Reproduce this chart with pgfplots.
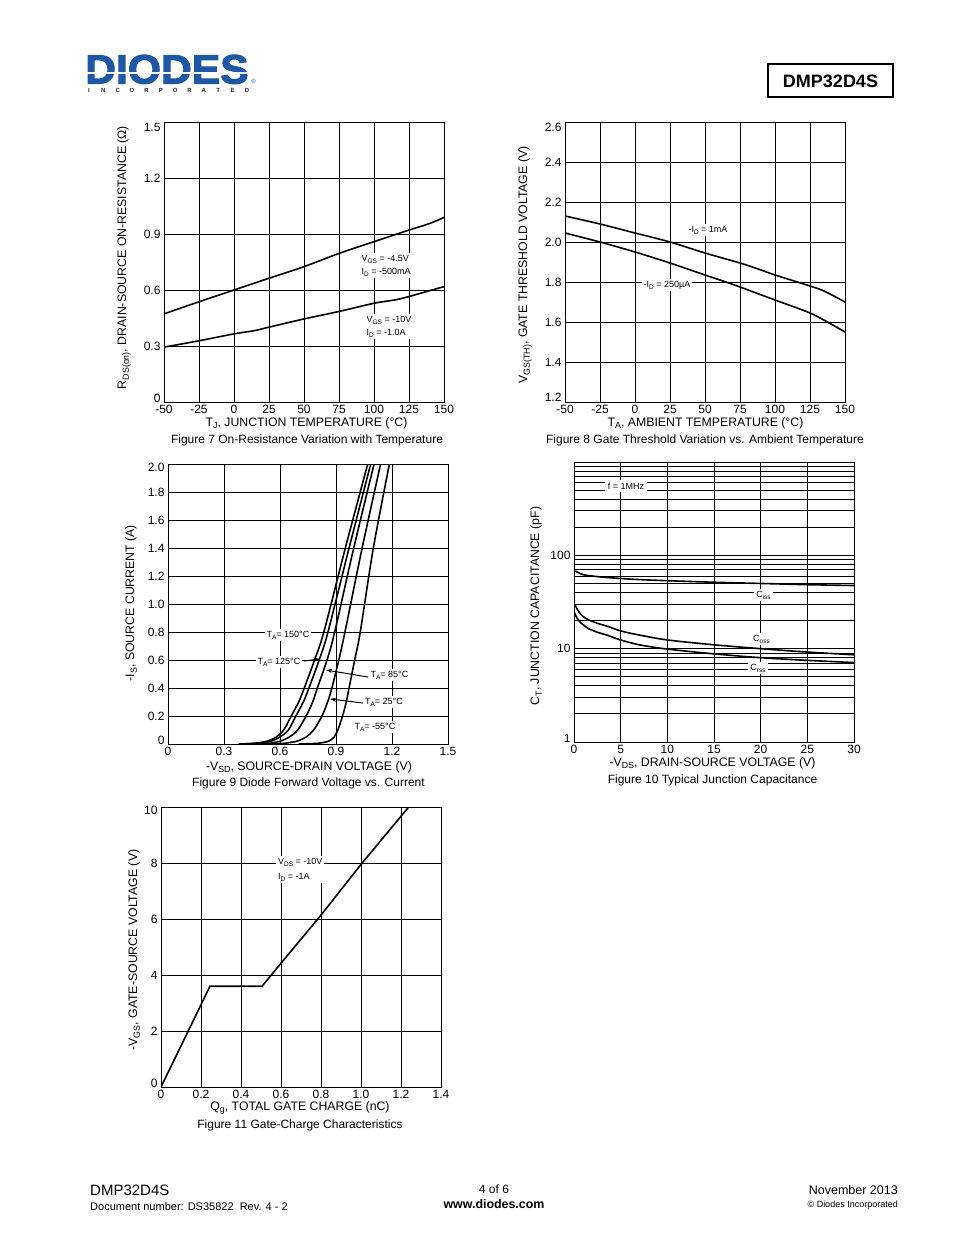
\documentclass[border=0pt]{standalone}
\usepackage{fontspec}
\setmainfont{Liberation Sans}
\newfontfamily\logofont{Liberation Sans}[BoldFeatures={FakeBold=2.5}]
\usepackage{pgfplots}
\pgfplotsset{compat=1.18}
\usetikzlibrary{arrows.meta}
\definecolor{diodesblue}{RGB}{30,88,164}
\newcommand{\fs}[1]{\fontsize{#1}{#1}\selectfont}
\newcommand{\sub}[1]{\raisebox{-0.22em}{\scalebox{0.72}{#1}}}
\newcommand{\up}[2]{\raisebox{#1}{#2}}

% common look of the datasheet graphs
\pgfplotsset{
  ds/.style={
    scale only axis, width=280pt, height=280pt, anchor=south west,
    axis line style={line width=1pt},
    grid=major, major grid style={black, line width=0.9pt},
    major tick length=0pt, minor tick length=0pt,
    ticklabel style={font=\fs{12}},
    yticklabel style={anchor=base east, yshift=-4.3pt},
    clip=true,
  },
  crv/.style={black, line width=1.6pt, no marks, smooth},
}

\begin{document}
\begin{tikzpicture}
\fill[white] (0,0) rectangle (954pt,-1235pt);
\path[use as bounding box] (0,0) rectangle (954pt,-1235pt);

% ---------------- Figure 7
\begin{axis}[ds, at={(164pt,-402pt)},
  xmin=-50, xmax=150, ymin=0, ymax=1.5,
  xtick={-50,-25,0,25,50,75,100,125,150},
  xticklabels={-50,-25,0,25,50,75,100,125,150},
  ytick={0,0.3,0.6,0.9,1.2,1.5},
  yticklabels={\up{4pt}{0},0.3,0.6,0.9,1.2,\up{-5pt}{1.5}}]
\addplot[crv] coordinates {(-50,0.472) (-25,0.537) (0,0.600) (25,0.663) (50,0.725)
  (75,0.796) (100,0.859) (125,0.921) (140,0.957) (150,0.989)};
\addplot[crv] coordinates {(-50,0.294) (-25,0.328) (0,0.365) (15,0.383) (25,0.401)
  (50,0.445) (75,0.485) (100,0.529) (115,0.547) (125,0.565) (140,0.597) (150,0.618)};
\end{axis}

% ---------------- Figure 8
\begin{axis}[ds, at={(565pt,-402pt)},
  xmin=-50, xmax=150, ymin=1.2, ymax=2.6,
  xtick={-50,-25,0,25,50,75,100,125,150},
  xticklabels={-50,-25,0,25,50,75,100,125,150},
  ytick={1.2,1.4,1.6,1.8,2.0,2.2,2.4,2.6},
  yticklabels={\up{5pt}{1.2},1.4,1.6,1.8,2.0,2.2,2.4,\up{-5pt}{2.6}}]
\addplot[crv] coordinates {(-50,2.13) (-25,2.09) (0,2.045) (25,2.0) (50,1.945)
  (75,1.895) (90,1.86) (100,1.835) (125,1.78) (135,1.755) (150,1.70)};
\addplot[crv] coordinates {(-50,2.045) (-25,2.0) (0,1.95) (25,1.895) (50,1.835)
  (65,1.80) (75,1.775) (100,1.71) (125,1.645) (140,1.59) (150,1.55)};
\end{axis}

% ---------------- Figure 9
\begin{axis}[ds, at={(168pt,-744pt)},
  xmin=0, xmax=1.5, ymin=0, ymax=2.0,
  xtick={0,0.3,0.6,0.9,1.2,1.5},
  xticklabels={0,0.3,0.6,0.9,1.2,1.5},
  ytick={0,0.2,0.4,0.6,0.8,1.0,1.2,1.4,1.6,1.8,2.0},
  yticklabels={\up{4pt}{0},0.2,0.4,0.6,0.8,1.0,1.2,1.4,1.6,1.8,\up{-3pt}{2.0}}]
% 150 C
\addplot[crv] coordinates {(0.38,0) (0.46,0.005) (0.53,0.02) (0.58,0.05) (0.62,0.1)
  (0.66,0.2) (0.70,0.3) (0.73,0.4) (0.785,0.6) (0.835,0.8) (0.95,1.4) (1.07,2.0)};
% 125 C
\addplot[crv] coordinates {(0.38,0) (0.48,0.005) (0.55,0.02) (0.60,0.05) (0.645,0.1)
  (0.685,0.2) (0.725,0.3) (0.755,0.4) (0.81,0.6) (0.857,0.8) (0.97,1.4) (1.086,2.0)};
% 85 C
\addplot[crv] coordinates {(0.44,0) (0.54,0.005) (0.60,0.02) (0.65,0.05) (0.695,0.1)
  (0.74,0.2) (0.775,0.3) (0.80,0.4) (0.852,0.6) (0.893,0.8) (0.995,1.4) (1.104,2.0)};
% 25 C
\addplot[crv] coordinates {(0.52,0) (0.62,0.005) (0.69,0.02) (0.74,0.05) (0.78,0.1)
  (0.825,0.2) (0.855,0.3) (0.878,0.4) (0.915,0.6) (0.948,0.8) (1.04,1.4) (1.139,2.0)};
% -55 C
\addplot[crv] coordinates {(0.70,0) (0.80,0.005) (0.86,0.02) (0.89,0.05) (0.91,0.1)
  (0.935,0.2) (0.955,0.3) (0.97,0.4) (1.0,0.6) (1.03,0.8) (1.10,1.4) (1.186,2.0)};
\end{axis}

% ---------------- Figure 10
\begin{axis}[ds, at={(574pt,-742pt)},
  ymode=log, xmin=0, xmax=30, ymin=1, ymax=1000,
  xtick={0,5,10,15,20,25,30},
  xticklabels={0,5,10,15,20,25,30},
  ytick={1,10,100}, yticklabels={\up{4pt}{1},10,100},
  minor ytick={2,3,4,5,6,7,8,9,20,30,40,50,60,70,80,90,200,300,400,500,600,700,800,900},
  grid=both, minor grid style={black, line width=0.9pt}]
% Ciss
\addplot[crv] coordinates {(0,69) (0.5,65) (1,62) (2,60) (3,58.5) (5,56.5) (7,55)
  (10,53.5) (15,51.5) (20,50) (25,48.5) (30,47.5)};
% Coss
\addplot[crv] coordinates {(0,31) (0.3,27) (0.7,23.5) (1,22) (1.5,20.5) (2.5,18.7)
  (3.5,17.5) (5,15.5) (7,14) (10,12.4) (15,11) (20,10) (25,9.2) (30,8.6)};
% Crss
\addplot[crv] coordinates {(0,25) (0.3,21.5) (0.7,19) (1,18) (1.5,16.5) (2.5,15)
  (3.5,14) (5,12.4) (7,11) (10,9.9) (15,8.8) (20,8.0) (25,7.5) (30,7.1)};
\end{axis}

% ---------------- Figure 11
\begin{axis}[ds, at={(161pt,-1087pt)},
  xmin=0, xmax=1.4, ymin=0, ymax=10,
  xtick={0,0.2,0.4,0.6,0.8,1.0,1.2,1.4},
  xticklabels={0,0.2,0.4,0.6,0.8,1.0,1.2,1.4},
  ytick={0,2,4,6,8,10}, yticklabels={\up{4pt}{0},2,4,6,8,\up{-3pt}{10}}]
\addplot[black, line width=1.6pt, no marks] coordinates {(0,0) (0.245,3.6) (0.505,3.6)
  (0.6,4.42) (0.8,6.14) (1.0,7.95) (1.25,10.1)};
\end{axis}

% ---------------- page text, labels, header and footer
\begin{scope}[x=1pt, y=-1pt]
  % logo
  \node[anchor=base west, inner sep=0, text=diodesblue] at (85,83.5)
    {\scalebox{1.04}[1]{\fs{41}\logofont\bfseries DIODES}};
  \fill[white] (84,71.6) rectangle (252,73.8);
  \foreach \c [count=\i from 0] in {I,N,C,O,R,P,O,R,A,T,E,D}
    \node[font=\fs{6}\bfseries, text=black!85, inner sep=0] at (89+\i*14.36,90) {\c};
  \node[font=\fs{6}, text=diodesblue, inner sep=0] at (253.5,81) {®};
  % part number box
  \draw[line width=1.5pt] (768,64) rectangle (893,97);
  \node[font=\fs{18}\bfseries] at (830.5,81) {DMP32D4S};

  % Figure 7 texts
  \node[rotate=90, font=\fs{12.3}] at (124,257.5)
    {R\sub{DS(on)}, DRAIN-SOURCE ON-RESISTANCE (Ω)};
  \node[font=\fs{12.3}] at (306.5,423) {T\sub{J}, JUNCTION TEMPERATURE (°C)};
  \node[font=\fs{12}] at (307,440) {Figure 7 On-Resistance Variation with Temperature};
  \node[font=\fontsize{9}{13}\selectfont, fill=white, inner sep=1.5pt, align=left, anchor=west] at (360,265.5)
    {V\sub{GS} = -4.5V\\I\sub{D} = -500mA};
  \node[font=\fontsize{9}{13}\selectfont, fill=white, inner sep=1.5pt, align=left, anchor=west] at (365,326.5)
    {V\sub{GS} = -10V\\I\sub{D} = -1.0A};

  % Figure 8 texts
  \node[rotate=90, font=\fs{12.3}] at (525,265)
    {V\sub{GS(TH)}, GATE THRESHOLD VOLTAGE (V)};
  \node[font=\fs{12.3}] at (705.5,423) {T\sub{A}, AMBIENT TEMPERATURE (°C)};
  \node[font=\fs{12}] at (705,440) {Figure 8 Gate Threshold Variation vs. Ambient Temperature};
  \node[font=\fs{9}, fill=white, inner sep=2pt] at (708,230) {-I\sub{D} = 1mA};
  \node[font=\fs{9}, fill=white, inner sep=2pt] at (667,285) {-I\sub{D} = 250µA};

  % Figure 9 texts
  \node[rotate=90, font=\fs{12.3}] at (131,603) {-I\sub{S}, SOURCE CURRENT (A)};
  \node[font=\fs{12.3}] at (309,767) {-V\sub{SD}, SOURCE-DRAIN VOLTAGE (V)};
  \node[font=\fs{12}] at (308.5,783) {Figure 9 Diode Forward Voltage vs. Current};
  \node[font=\fs{9}, fill=white, inner sep=2pt] at (288,635) {T\sub{A}= 150°C};
  \node[font=\fs{9}, fill=white, inner sep=2pt] at (279,662) {T\sub{A}= 125°C};
  \node[font=\fs{9}, fill=white, inner sep=2pt] at (389.5,675) {T\sub{A}= 85°C};
  \node[font=\fs{9}, fill=white, inner sep=2pt] at (384,702) {T\sub{A}= 25°C};
  \node[font=\fs{9}, fill=white, inner sep=2pt] at (375,727) {T\sub{A}= -55°C};
  \draw[line width=1pt, -{Stealth[length=6pt, width=4pt]}] (304,661) -- (320,659);
  \draw[line width=1pt, -{Stealth[length=6pt, width=4pt]}] (368,677) -- (326,670);
  \draw[line width=1pt, -{Stealth[length=6pt, width=4pt]}] (363,703) -- (330,699);

  % Figure 10 texts
  \node[rotate=90, font=\fs{12.3}] at (536,606) {C\sub{T}, JUNCTION CAPACITANCE (pF)};
  \node[font=\fs{12.3}] at (712.5,763) {-V\sub{DS}, DRAIN-SOURCE VOLTAGE (V)};
  \node[font=\fs{12}] at (712.5,780) {Figure 10 Typical Junction Capacitance};
  \node[font=\fs{9}, fill=white, inner sep=3pt] at (626,486) {f = 1MHz};
  \node[font=\fs{9}, fill=white, inner sep=2pt] at (763.5,595) {C\sub{iss}};
  \node[font=\fs{9}, fill=white, inner sep=2pt] at (761.5,639) {C\sub{oss}};
  \node[font=\fs{9}, fill=white, inner sep=2pt] at (758,668) {C\sub{rss}};

  % Figure 11 texts
  \node[rotate=90, font=\fs{12.3}] at (134,950) {-V\sub{GS}, GATE-SOURCE VOLTAGE (V)};
  \node[font=\fs{12.3}] at (300,1108) {Q\sub{g}, TOTAL GATE CHARGE (nC)};
  \node[font=\fs{12}] at (300,1125) {Figure 11 Gate-Charge Characteristics};
  \node[font=\fontsize{9}{15}\selectfont, fill=white, inner sep=2pt, align=left, anchor=west] at (276,869.5)
    {V\sub{DS} = -10V\\I\sub{D} = -1A};

  % footer
  \node[font=\fs{15}, anchor=base west, inner sep=0] at (90,1195) {DMP32D4S};
  \node[font=\fs{11}, anchor=base west, inner sep=0] at (90,1210)
    {Document number: DS35822\ \ Rev. 4 - 2};
  \node[font=\fs{12}, anchor=base, inner sep=0] at (494,1193.5) {4 of 6};
  \node[font=\fs{12.4}\bfseries, anchor=base, inner sep=0] at (494,1208.5) {www.diodes.com};
  \node[font=\fs{12.5}, anchor=base east, inner sep=0] at (898,1194.5) {November 2013};
  \node[font=\fs{9}, anchor=base east, inner sep=0] at (898,1207.5) {© Diodes Incorporated};
\end{scope}
\end{tikzpicture}
\end{document}
